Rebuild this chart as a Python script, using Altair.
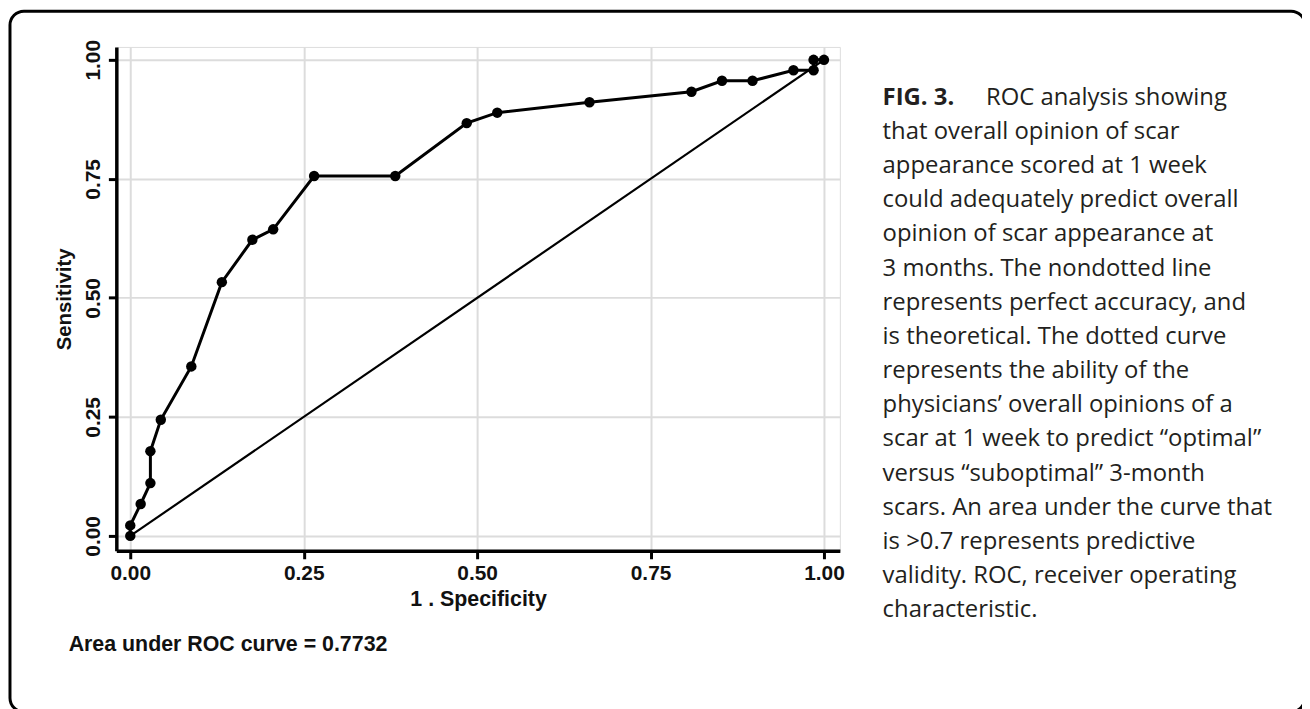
import altair as alt
import pandas as pd

# ROC curve points (1 - specificity, sensitivity)
fpr = [0.0, 0.0, 0.015, 0.029, 0.029, 0.044, 0.088, 0.132, 0.176, 0.206, 0.265,
       0.382, 0.485, 0.529, 0.662, 0.809, 0.853, 0.897, 0.956, 0.985, 0.985, 1.0]
sens = [0.0, 0.022, 0.067, 0.111, 0.178, 0.244, 0.356, 0.533, 0.622, 0.644, 0.756,
        0.756, 0.867, 0.889, 0.911, 0.933, 0.956, 0.956, 0.978, 0.978, 1.0, 1.0]
order = list(range(len(fpr)))

# reference (chance) diagonal
ref_x = [0.0, 1.0]
ref_y = [0.0, 1.0]

tick_values = [0.0, 0.25, 0.5, 0.75, 1.0]

auc_label = "Area under ROC curve = 0.7732"
fig_label = "FIG. 3."
caption_first = "ROC analysis showing"
caption_rest = [
    "that overall opinion of scar",
    "appearance scored at 1 week",
    "could adequately predict overall",
    "opinion of scar appearance at",
    "3 months. The nondotted line",
    "represents perfect accuracy, and",
    "is theoretical. The dotted curve",
    "represents the ability of the",
    "physicians\u2019 overall opinions of a",
    "scar at 1 week to predict \u201coptimal\u201d",
    "versus \u201csuboptimal\u201d 3-month",
    "scars. An area under the curve that",
    "is >0.7 represents predictive",
    "validity. ROC, receiver operating",
    "characteristic.",
]

roc_df = pd.DataFrame({"x": fpr, "y": sens, "i": order})
ref_df = pd.DataFrame({"x": ref_x, "y": ref_y})
one = pd.DataFrame({"a": [0]})

axis_common = dict(
    domainColor="black", domainWidth=3.5,
    tickColor="black", tickWidth=3, tickSize=8,
    labelFont="Liberation Sans", labelFontSize=21, labelFontWeight="bold",
    labelColor="#111111", labelFlush=False, labelOverlap=False,
    titleFont="Liberation Sans", titleFontWeight="bold", titleColor="#111111",
    gridColor="#dcdcdc", gridWidth=2,
    values=tick_values, format=".2f",
)

x_enc = alt.X(
    "x:Q",
    scale=alt.Scale(domain=[-0.0201, 1.0229], nice=False, zero=False),
    axis=alt.Axis(title="1 . Specificity", titleFontSize=21.5, labelPadding=4,
                  titlePadding=5, **axis_common),
)
y_enc = alt.Y(
    "y:Q",
    scale=alt.Scale(domain=[-0.0313, 1.0271], nice=False, zero=False),
    axis=alt.Axis(title="Sensitivity", titleFontSize=20.5, labelPadding=5,
                  titlePadding=8, labelAngle=270, labelAlign="center",
                  labelBaseline="bottom", **axis_common),
)

frame = alt.Chart(one).mark_rect(
    fill="white", fillOpacity=0, stroke="black", strokeWidth=3, cornerRadius=14
).encode(
    x=alt.value(-107), x2=alt.value(1196), y=alt.value(-36), y2=alt.value(669)
)

diag = alt.Chart(ref_df).mark_line(color="black", strokeWidth=2.2).encode(
    x=x_enc, y=y_enc
)

curve = alt.Chart(roc_df).mark_line(color="black", strokeWidth=3).encode(
    x=x_enc, y=y_enc, order="i:Q"
)

pts = alt.Chart(roc_df).mark_circle(color="black", size=110, opacity=1).encode(
    x=x_enc, y=y_enc
)

auc = alt.Chart(one).mark_text(
    align="left", baseline="alphabetic", font="Liberation Sans",
    fontSize=21.5, fontWeight="bold", color="#111111"
).encode(x=alt.value(-48), y=alt.value(608), text=alt.value(auc_label))

fig_txt = alt.Chart(one).mark_text(
    align="left", baseline="alphabetic", font="Open Sans",
    fontSize=24, fontWeight="bold", color="#231f20"
).encode(x=alt.value(771), y=alt.value(58), text=alt.value(fig_label))

cap1 = alt.Chart(one).mark_text(
    align="left", baseline="alphabetic", font="Open Sans",
    fontSize=24, color="#231f20"
).encode(x=alt.value(875), y=alt.value(58), text=alt.value(caption_first))

cap_rest = alt.Chart(one).mark_text(
    align="left", baseline="alphabetic", font="Open Sans",
    fontSize=24, color="#231f20", lineBreak="\n", lineHeight=34.4
).encode(x=alt.value(771), y=alt.value(92.4), text=alt.value("\n".join(caption_rest)))

chart = alt.layer(frame, diag, curve, pts, auc, fig_txt, cap1, cap_rest).properties(
    width=728, height=507,
    autosize=alt.AutoSizeParams(type="none"),
    padding={"left": 109, "top": 37, "right": 465, "bottom": 157},
).configure_view(stroke=None).configure(background="white")

chart.save("out.html", embed_options={"renderer": "svg", "actions": False})
